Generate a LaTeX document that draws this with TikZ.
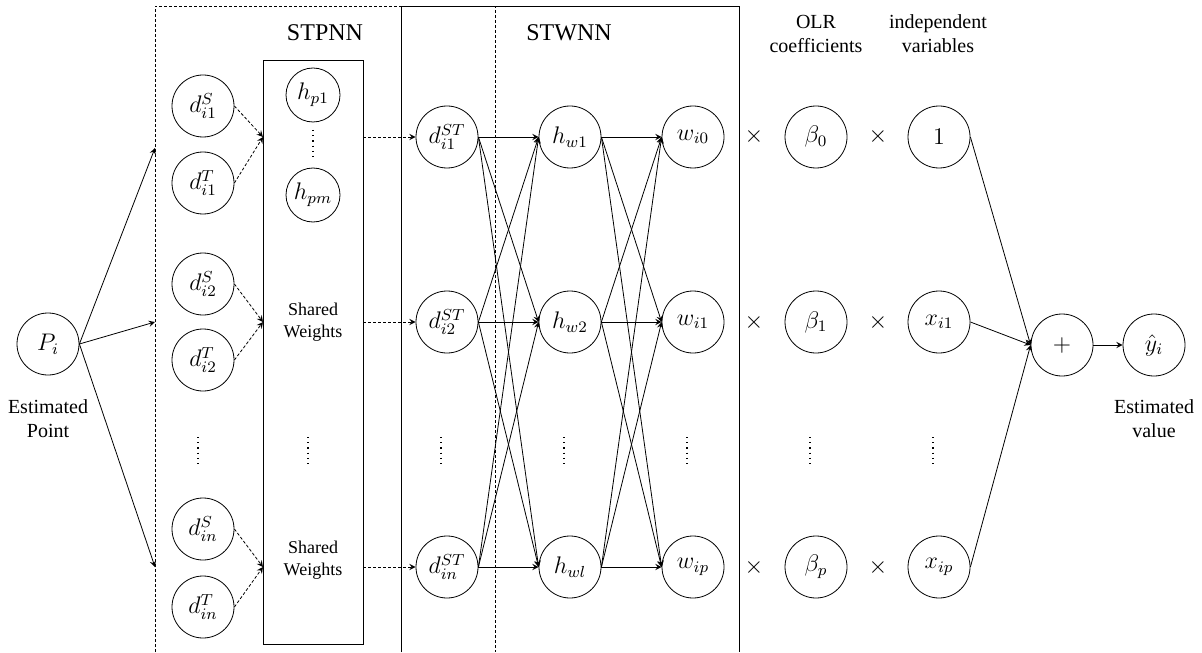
\documentclass[tikz,border=0pt]{standalone}
\usepackage{fontspec}
\setmainfont{Liberation Serif}
\usepackage{tikz}
\usetikzlibrary{arrows, positioning}

\begin{document}
\begin{tikzpicture}[
		x=0.5pt, y=-0.5pt,
		line width=0.4pt,
		every node/.style={font=\fontsize{12}{14}\selectfont},
		neuron/.style={circle, draw, minimum size=31pt, inner sep=0pt},
		small neuron/.style={circle, draw, minimum size=27pt, inner sep=0pt},
		link/.style={-stealth},
		dash link/.style={-stealth, dash pattern=on 1.5pt off 1pt},
		frame line/.style={dash pattern=on 1.5pt off 1pt},
		vdots/.style={dotted, line width=0.6pt},
		title/.style={font=\fontsize{12}{14}\selectfont},
		caption/.style={align=center, font=\fontsize{10}{12}\selectfont},
		small caption/.style={align=center, font=\fontsize{9}{11}\selectfont}
		]
	\useasboundingbox (0,0) rectangle (1202,652);

	% Frames
	\draw[frame line] (155,652) -- (155,6) -- (495,6) -- (495,652);
	\draw (401,652) -- (401,6) -- (739,6) -- (739,652);
	\node[title] (stpnn) at (325,33) {STPNN};
	\node[title] (stwnn) at (569,33) {STWNN};
	\node[caption] (olr) at (816,34) {OLR\\coefficients};
	\node[caption] (indep) at (938,34) {independent\\variables};

	% Estimated point
	\node[neuron] (P) at (48,344) {$P_i$};
	\node[caption] (Plabel) at (48,419) {Estimated\\Point};

	% Shared weights box
	\draw (263,60) rectangle (363,644);
	\node[small neuron] (hp1) at (313,95) {$h_{p1}$};
	\node[small neuron] (hpm) at (313,195) {$h_{pm}$};
	\draw[vdots] (313,130) -- (313,158);
	\node[small caption] (sw2) at (313,322) {Shared\\Weights};
	\node[small caption] (swn) at (313,560) {Shared\\Weights};

	% Distance inputs
	\foreach \r/\yp/\ys/\yt/\ya in {1/148/106/183/137, 2/322/284/360/322, n/567/529/607/567}{
		\node[neuron] (dS\r) at (203,\ys) {$d_{i\r}^S$};
		\node[neuron] (dT\r) at (203,\yt) {$d_{i\r}^T$};
		\node[neuron] (dst\r) at (447,\ya) {$d_{i\r}^{ST}$};
		\coordinate (in\r) at (155,\yp);
		\coordinate (swin\r) at (263,\ya);
		\coordinate (swout\r) at (363,\ya);
		\draw[link] (P.east) -- (in\r);
		\draw[dash link] (dS\r.east) -- (swin\r);
		\draw[dash link] (dT\r.east) -- (swin\r);
		\draw[dash link] (swout\r) -- (dst\r.west);
	}

	% STWNN hidden and weights
	\foreach \h/\w/\y in {1/0/137, 2/1/322, l/p/567}{
		\node[neuron] (hw\h) at (570,\y) {$h_{w\h}$};
		\node[neuron] (w\w) at (693,\y) {$w_{i\w}$};
		\node (ta\w) at (754,\y) {$\times$};
		\node[neuron] (b\w) at (816,\y) {$\beta_\w$};
		\node (tb\w) at (878,\y) {$\times$};
	}
	\node[neuron] (x0) at (939,137) {$1$};
	\node[neuron] (x1) at (939,322) {$x_{i1}$};
	\node[neuron] (xp) at (939,567) {$x_{ip}$};

	\foreach \a in {1,2,n}{
		\foreach \b in {1,2,l}{
			\draw[link] (dst\a.east) -- (hw\b.west);
		}
	}
	\foreach \a in {1,2,l}{
		\foreach \b in {0,1,p}{
			\draw[link] (hw\a.east) -- (w\b.west);
		}
	}

	% Dots
	\foreach \x in {198, 308, 441, 564, 687, 810, 933}{
		\draw[vdots] (\x,437) -- (\x,465);
	}

	% Output
	\node[neuron] (plus) at (1062,345) {$+$};
	\node[neuron] (yhat) at (1154,345) {$\hat{y}_i$};
	\node[caption] (ylabel) at (1154,419) {Estimated\\value};
	\foreach \v in {0,1,p}{
		\draw[link] (x\v.east) -- (plus.west);
	}
	\draw[link] (plus) -- (yhat);

\end{tikzpicture}
\end{document}
